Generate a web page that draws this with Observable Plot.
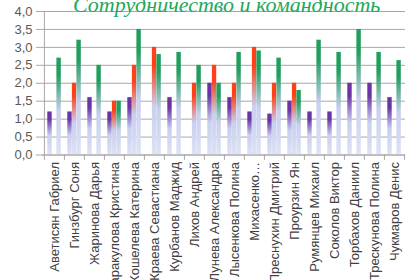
<!DOCTYPE html>
<html>
<head>
<meta charset="utf-8">
<script src="https://cdn.jsdelivr.net/npm/d3@7"></script>
<script src="https://cdn.jsdelivr.net/npm/@observablehq/plot@0.6"></script>
<style>
  html, body { margin: 0; padding: 0; background: #fff; overflow: hidden; }
  #wrap { position: relative; width: 420px; height: 280px; overflow: hidden; }
  #title { position: absolute; top: -6px; left: 73px; white-space: nowrap;
    font: italic 22px/22px "Liberation Serif", serif; color: #22a85a; z-index: 2; }
  #chart { position: absolute; top: 0; left: 0; }
</style>
</head>
<body>
<div id="wrap">
  <div id="title">Сотрудничество и командность</div>
  <div id="chart"></div>
</div>
<script>
const names = [
  "Аветисян Габриел", "Гинзбург Соня", "Жаринова Дарья", "Каракулова Кристина",
  "Кошелева Катерина", "Краева Севастиана", "Курбанов Маджид", "Лихов Андрей",
  "Лунева Александра", "Лысенкова Полина", "Михасенко…", "Преснухин Дмитрий",
  "Проурзин Ян", "Румянцев Михаил", "Соколов Виктор", "Торбахов Даниил",
  "Трескунова Полина", "Чукмаров Денис"
];
const purpleValues = [1.2, 1.2, 1.6, 1.2, 1.6, null, 1.6, null, 2.0, 1.6, 1.2, 1.14, 1.5, 1.2, 1.2, 2.0, 2.0, 1.6];
const orangeValues = [null, 2.0, null, 1.5, 2.5, 3.0, null, 2.0, 2.5, 2.0, 3.0, 2.0, 2.0, null, null, null, null, null];
const greenValues  = [2.7, 3.2, 2.5, 1.5, 3.5, 2.8, 2.86, 2.5, 2.0, 2.86, 2.9, 2.7, 1.8, 3.2, 2.86, 3.5, 2.86, 2.63];
const yTicks = [0, 0.5, 1, 1.5, 2, 2.5, 3, 3.5, 4];

const rows = vals => names.map((name, i) => ({name, value: vals[i]})).filter(d => d.value != null);

const W = 420, H = 280, mL = 42, mR = 15, mT = 11, mB = 125.5;
const step = (W - mL - mR) / names.length;

const plot = Plot.plot({
  width: W, height: H,
  marginLeft: mL, marginRight: mR, marginTop: mT, marginBottom: mB,
  style: {fontFamily: "'Liberation Sans', Arial, sans-serif", background: "transparent"},
  x: {type: "band", domain: names, padding: 0},
  y: {domain: [0, 4]},
  marks: [
    Plot.gridY(yTicks, {stroke: "#a8a8a8", strokeOpacity: 1}),
    Plot.barY(rows(purpleValues), {x: "name", y: "value", fill: "url(#gp)", insetLeft: 3.3, insetRight: 12.3}),
    Plot.barY(rows(orangeValues), {x: "name", y: "value", fill: "url(#go)", insetLeft: 7.9, insetRight: 7.8}),
    Plot.barY(rows(greenValues),  {x: "name", y: "value", fill: "url(#gg)", insetLeft: 12.4, insetRight: 3.2}),
    Plot.ruleY([0], {stroke: "#a8a8a8"}),
    Plot.ruleX([names[0]], {x: d => d, dx: -step / 2, y1: 0, y2: 4, stroke: "#a8a8a8"}),
    Plot.ruleX(names, {x: d => d, dx: -step / 2, y1: 0, y2: -0.15, stroke: "#a8a8a8"}),
    Plot.ruleX([names[names.length - 1]], {x: d => d, dx: step / 2, y1: 0, y2: -0.15, stroke: "#a8a8a8"}),
    Plot.axisY(yTicks, {tickSize: 6, tickPadding: 4, stroke: "#a8a8a8", fill: "#595959", fontSize: 13,
      tickFormat: d => d.toFixed(1).replace(".", ","), label: null}),
    Plot.axisX({tickSize: 0, tickPadding: 7, tickRotate: -90, fontSize: 13, fill: "#404040", label: null})
  ]
});

const svg = d3.select(plot);
const defs = svg.insert("defs", ":first-child");
function grad(id, color) {
  const g = defs.append("linearGradient").attr("id", id)
    .attr("x1", 0).attr("y1", 0).attr("x2", 0).attr("y2", 1);
  [[0, color], [0.18, color], [0.55, "#c9cfee"], [1, "#dde2f5"]].forEach(([o, c]) =>
    g.append("stop").attr("offset", o).attr("stop-color", c));
}
grad("gp", "#6a34a6");
grad("go", "#ff4019");
grad("gg", "#1f9e5c");

document.getElementById("chart").appendChild(plot);
</script>
</body>
</html>
